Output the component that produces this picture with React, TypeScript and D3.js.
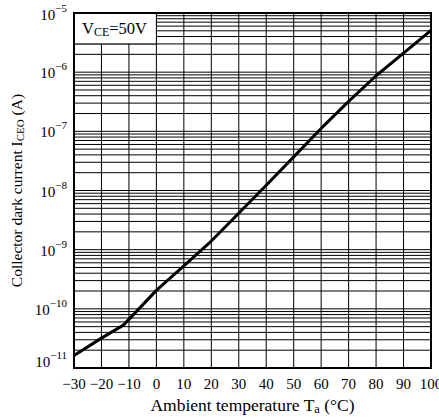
import React from 'react'
import * as d3 from 'd3'

// values
const temps = [-30, -20, -12, 0, 10, 20, 29, 40, 50, 60, 70, 80, 90, 100]
const currents = [1.62e-11, 3.2e-11, 5.3e-11, 2.05e-10, 5.3e-10, 1.4e-9, 3.7e-9, 1.23e-8, 3.7e-8, 1.12e-7, 3.2e-7, 8.7e-7, 2.1e-6, 5.1e-6]

const xTicks = [-30, -20, -10, 0, 10, 20, 30, 40, 50, 60, 70, 80, 90, 100]
const yExps = [-5, -6, -7, -8, -9, -10, -11]

const W = 439
const H = 420
const margin = { left: 74, right: 8, top: 13, bottom: 52 }

const App = () => {
    const x = d3.scaleLinear().domain([-30, 100]).range([margin.left, W - margin.right])
    const y = d3.scaleLog().domain([1e-11, 1e-5]).range([H - margin.bottom, margin.top])

    const minor: number[] = []
    for (let e = -11; e < -5; e++) {
        for (let m = 1; m < 10; m++) minor.push(m * Math.pow(10, e))
    }

    const line = d3.line<number>()
        .x((_, i) => x(temps[i]))
        .y(d => y(d))

    const serif = '"Liberation Serif", "Times New Roman", serif'
    const x0 = x(-30), x1 = x(100), y0 = y(1e-11), y1 = y(1e-5)

    return (
        <svg width={W} height={H} style={{ position: 'absolute', left: 0, top: 0, background: '#fff' }}
            fontFamily={serif}>
            <g stroke="#000" strokeWidth={1}>
                {minor.map((v, i) => <line key={'h' + i} x1={x0} x2={x1} y1={y(v)} y2={y(v)} />)}
                {xTicks.map(t => <line key={'v' + t} x1={x(t)} x2={x(t)} y1={y0} y2={y1} />)}
            </g>
            <rect x={x0} y={y1} width={x(0) - x0} height={y(3e-6) - y1} fill="#fff" stroke="#000" strokeWidth={1} />
            <text x={x0 + 8} y={y1 + 21} fontSize={16.5}>
                V<tspan fontSize={12} dy={2}>CE</tspan><tspan dy={-2}>=50V</tspan>
            </text>
            <path d={line(currents) ?? ''} fill="none" stroke="#000" strokeWidth={3} strokeLinejoin="round" />
            <rect x={x0} y={y1} width={x1 - x0} height={y0 - y1} fill="none" stroke="#000" strokeWidth={2} />
            {xTicks.map(t => (
                <text key={'xl' + t} x={x(t)} y={y0 + 21} fontSize={15} textAnchor="middle">
                    {t < 0 ? '\u2212' + Math.abs(t) : t}
                </text>
            ))}
            {yExps.map(e => {
                const yy = y(Math.pow(10, e))
                return (
                    <text key={'yl' + e} x={margin.left - 7} y={Math.min(yy + 6, y0 - 1) + (e === -5 ? 1 : 0)} fontSize={15} textAnchor="end">
                        10<tspan fontSize={11} dy={-8}>{'\u2212' + Math.abs(e)}</tspan>
                    </text>
                )
            })}
            <text x={(x0 + x1) / 2} y={411} fontSize={17.5} textAnchor="middle">
                Ambient temperature T<tspan fontSize={12.5} dy={2}>a</tspan><tspan dy={-2}> (°C)</tspan>
            </text>
            <text transform={`translate(22,${(y0 + y1) / 2}) rotate(-90)`} fontSize={15.5} textAnchor="middle">
                Collector dark current I<tspan fontSize={11} dy={2}>CEO</tspan><tspan dy={-2}> (A)</tspan>
            </text>
        </svg>
    )
}

export default App
